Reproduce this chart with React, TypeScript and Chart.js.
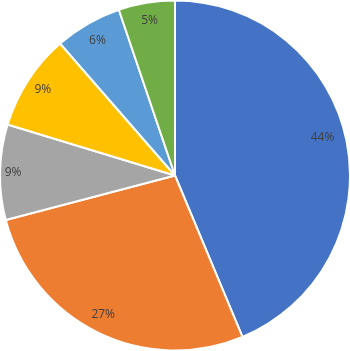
import React, { useEffect, useRef } from "react";
import { Chart, registerables } from "chart.js";

Chart.register(...registerables);

const categories = ["A", "B", "C", "D", "E", "F"];
const values = [43.7, 27.2, 8.8, 8.9, 6.2, 5.2];
const labels = ["44%", "27%", "9%", "9%", "6%", "5%"];
const colors = ["#4472C4", "#ED7D31", "#A5A5A5", "#FFC000", "#5B9BD5", "#70AD47"];
const labelDistance = [0.87, 0.895, 0.925, 0.9, 0.89, 0.895];
const labelAngleShift = [-3, 1, 0, 0, 0, 0];

const labelPlugin = {
  id: "pieLabels",
  afterDatasetsDraw(chart: any) {
    const ctx = chart.ctx;
    const meta = chart.getDatasetMeta(0);
    ctx.save();
    ctx.font = "12px 'Open Sans', 'Liberation Sans', sans-serif";
    ctx.fillStyle = "#404040";
    ctx.textAlign = "center";
    ctx.textBaseline = "middle";
    meta.data.forEach((arc: any, i: number) => {
      const { x, y, startAngle, endAngle, outerRadius } = arc.getProps(
        ["x", "y", "startAngle", "endAngle", "outerRadius"],
        true
      );
      const mid = (startAngle + endAngle) / 2 + (labelAngleShift[i] * Math.PI) / 180;
      const d = outerRadius * labelDistance[i];
      ctx.fillText(labels[i], x + Math.cos(mid) * d, y + Math.sin(mid) * d);
    });
    ctx.restore();
  },
};

export default function App() {
  const ref = useRef<HTMLCanvasElement>(null);
  useEffect(() => {
    const chart = new Chart(ref.current!, {
      type: "pie",
      data: {
        labels: categories,
        datasets: [
          {
            data: values,
            backgroundColor: colors,
            borderColor: "#FFFFFF",
            borderWidth: 2,
          },
        ],
      },
      options: {
        responsive: false,
        animation: false,
        radius: 175,
        layout: { padding: 0 },
        plugins: { legend: { display: false }, tooltip: { enabled: false } },
      } as any,
      plugins: [labelPlugin],
    });
    return () => chart.destroy();
  }, []);
  return (
    <div style={{ position: "fixed", left: 0, top: 0, width: 350, height: 351, background: "#fff" }}>
      <canvas ref={ref} width={350} height={351} style={{ display: "block" }} />
    </div>
  );
}
